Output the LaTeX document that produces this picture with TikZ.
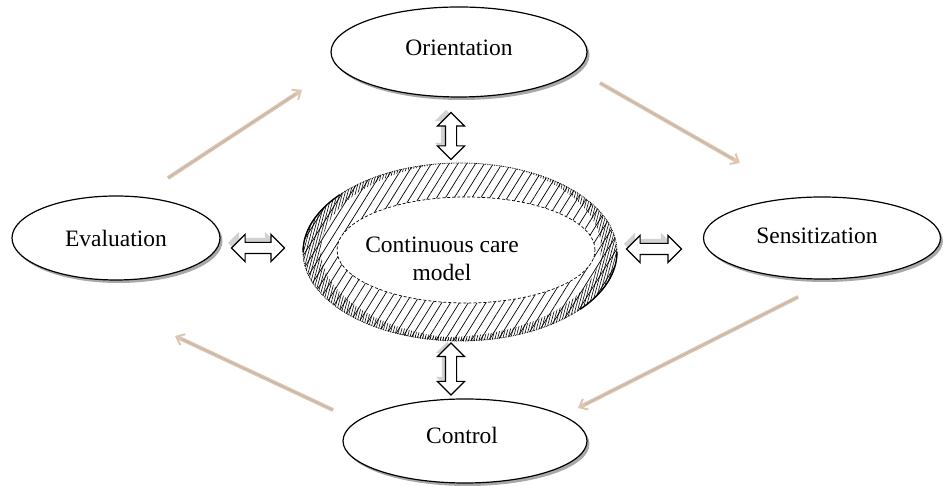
\documentclass[tikz,border=0pt]{standalone}
\usepackage{fontspec}
\setmainfont{Liberation Serif}
\usetikzlibrary{shapes.geometric,shapes.arrows,shadows,patterns.meta,arrows.meta}
\definecolor{tan}{RGB}{222,198,176}
\definecolor{tancore}{RGB}{195,182,172}
\tikzset{
  stage/.style={ellipse, draw=black, line width=1.2pt, fill=white,
    font=\fontsize{23.5}{26}\selectfont, inner sep=0pt,
    drop shadow={shadow xshift=2.5pt, shadow yshift=-3pt, fill=gray!75, opacity=0.9}},
  dbl/.style={double arrow, draw=black, line width=1.1pt, fill=white, inner xsep=0pt, inner ysep=5pt,
    double arrow head extend=8pt, double arrow tip angle=90},
  dblshadow/.style={double arrow, draw=none, fill=gray!35, inner xsep=0pt, inner ysep=5pt,
    double arrow head extend=6pt, double arrow tip angle=90},
  flow/.style={line width=4pt, tan, -{Straight Barb[length=7pt,width=12pt,line width=2pt]}},
  flowcore/.style={line width=1.2pt, tancore},
  dense/.style={pattern={Lines[angle=75,distance=2.5pt,line width=0.6pt]}},
}
\begin{document}
\begin{tikzpicture}[x=1pt,y=1pt]
\useasboundingbox (0,0) rectangle (943,486);
% central ring
\coordinate (ringc) at (460,234);
\fill[pattern={Lines[angle=58,distance=7.5pt,line width=0.7pt]}] (ringc) ellipse [x radius=157, y radius=89];
\begin{scope}
  \clip (ringc) ellipse [x radius=157, y radius=89];
  \fill[dense, even odd rule] (ringc) ellipse [x radius=157, y radius=89]
    (478,236) ellipse [x radius=157, y radius=89];
  \fill[dense, even odd rule] (ringc) ellipse [x radius=157, y radius=89]
    (444,238) ellipse [x radius=157, y radius=89];
\end{scope}
\draw[densely dotted, line width=0.8pt] (ringc) ellipse [x radius=157, y radius=89];
\draw[line width=1.4pt] (ringc) ++(157,0) arc[start angle=0, end angle=-40, x radius=157, y radius=89];
\draw[line width=1.4pt] (ringc) ++(-157,0) arc[start angle=180, end angle=140, x radius=157, y radius=89];
\node[ellipse, draw=black, densely dashed, line width=0.7pt, fill=white, minimum width=258pt, minimum height=106pt] (core) at (466,236) {};
\node[font=\fontsize{23.5}{28}\selectfont, align=center] (coretext) at (442,227) {Continuous care\\model};

% stages
\node[stage, minimum width=256pt, minimum height=90pt] (orient) at (459,434) {};
\node[font=\fontsize{23.5}{26}\selectfont] at (orient) [yshift=4pt] {Orientation};
\node[stage, minimum width=208pt, minimum height=84pt] (eval) at (116,248) {Evaluation};
\node[stage, minimum width=237pt, minimum height=82pt] (sens) at (822,248) {};
\node[font=\fontsize{23.5}{26}\selectfont] at (817,250) {Sensitization};
\node[stage, minimum width=244pt, minimum height=84pt] (ctrl) at (465,45) {};
\node[font=\fontsize{23.5}{26}\selectfont] at (462,51) {Control};

% double arrows (shadows)
\node[dblshadow, minimum height=44pt, rotate=90] at (446,354) {};
\node[dblshadow, minimum height=46pt, rotate=90] at (447,121) {};
\node[dblshadow, minimum height=48pt] at (252,243) {};
\node[dblshadow, minimum height=48pt] at (648,242) {};
% double arrows
\node[dbl, minimum height=47pt, rotate=90] (darrT) at (451,350) {};
\node[dbl, minimum height=52pt, rotate=90] (darrB) at (451,117) {};
\node[dbl, minimum height=53pt] (darrL) at (258,238) {};
\node[dbl, minimum height=55pt] (darrR) at (654,237) {};

% cycle arrows
\coordinate (a1s) at (168,308); \coordinate (a1e) at (302,396);
\coordinate (a2s) at (600,403); \coordinate (a2e) at (740,323);
\coordinate (a3s) at (798,189); \coordinate (a3e) at (578,78);
\coordinate (a4s) at (333,76);  \coordinate (a4e) at (175,150);
\foreach \s/\e in {a1s/a1e,a2s/a2e,a3s/a3e,a4s/a4e}{
  \draw[flow] (\s) -- (\e);
  \draw[flowcore, shorten >=8pt] (\s) -- (\e);
}
\end{tikzpicture}
\end{document}
